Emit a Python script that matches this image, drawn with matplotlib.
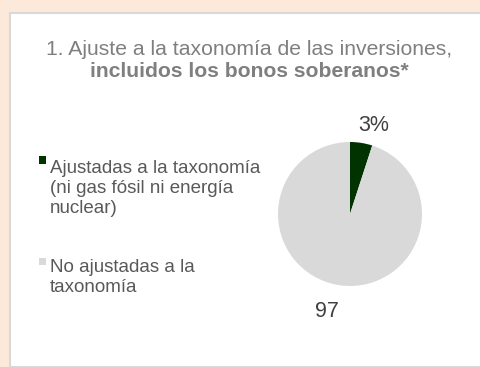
import matplotlib
matplotlib.use("Agg")
import matplotlib.pyplot as plt
from matplotlib.patches import Rectangle

plt.rcParams['font.family'] = ['Liberation Sans', 'DejaVu Sans']

# data
categories = ["Ajustadas a la taxonomía\n(ni gas fósil ni energía\nnuclear)",
              "No ajustadas a la\ntaxonomía"]
shares = [5, 95]            # drawn slice sizes
slice_labels = ["3%", "97"]  # labels printed on the chart
colors = ["#003300", "#d9d9d9"]

W, H = 481, 367
fig = plt.figure(figsize=(W / 100, H / 100), dpi=100, facecolor="#fde9d9")

def fx(px):
    return px / W

def fy(py):
    return 1 - py / H

# white panel with thin grey border
fig.patches.append(Rectangle((fx(9.5), 0), 1.0, fy(12.5), transform=fig.transFigure,
                             facecolor="white", edgecolor="#d9d9d9", lw=1.5, zorder=-1))

# title
fig.text(fx(249), fy(55), "1. Ajuste a la taxonomía de las inversiones,",
         ha="center", va="baseline", fontsize=15.2, color="#7f7f7f")
fig.text(fx(249), fy(77), "incluidos los bonos soberanos*",
         ha="center", va="baseline", fontsize=15.2, color="#7f7f7f", fontweight="bold")

# pie
r = 72
ax = fig.add_axes([fx(350 - r), fy(214 + r), 2 * r / W, 2 * r / H], zorder=2)
ax.patch.set_alpha(0)
wedges, texts = ax.pie(shares, labels=slice_labels, colors=colors, startangle=90,
                       counterclock=False, labeldistance=1.25,
                       textprops=dict(fontsize=15.5, color="#404040"))
# nudge labels a little, like the original
x, y = texts[0].get_position()
texts[0].set_position((x + 0.13, y))
x, y = texts[1].get_position()
texts[1].set_position((x * 1.1 - 0.1, y * 1.1))
for t in texts:
    t.set_ha("center")
    t.set_va("center")
ax.set_xlim(-1, 1)
ax.set_ylim(-1, 1)
ax.set_aspect("equal")

# legend, drawn by hand so the marker sits on the first line
first_base = [171, 272]
last_base = [213, 292]
for lab, col, b0, b1 in zip(categories, colors, first_base, last_base):
    fig.patches.append(Rectangle((fx(38.5), fy(b0 - 7)), fx(7.5), 7.5 / H,
                                 transform=fig.transFigure, facecolor=col, edgecolor="none"))
    fig.text(fx(50), fy(b1), lab, ha="left", va="baseline", fontsize=13.5,
             color="#595959", linespacing=1.22)

fig.savefig("out.png", dpi=100, facecolor=fig.get_facecolor())
